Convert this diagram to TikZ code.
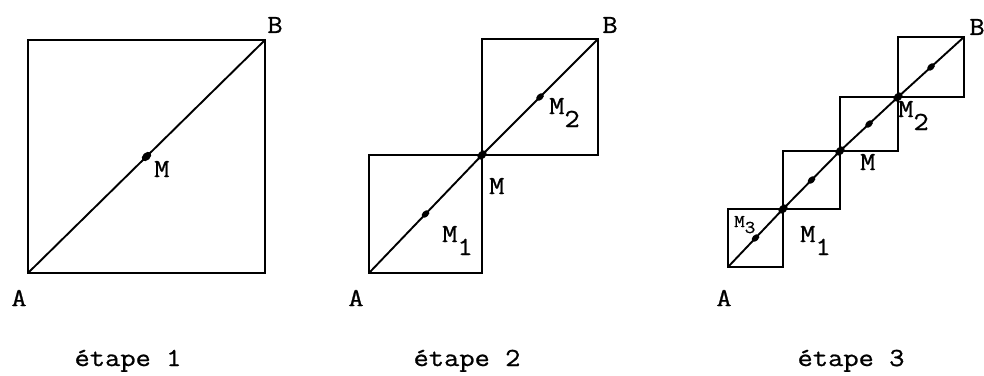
\documentclass[tikz,border=0pt]{standalone}
\usepackage{fontspec}
\newfontfamily\typefont[FakeStretch=1.14, FakeBold=0.9]{Latin Modern Mono}
\usetikzlibrary{shapes.geometric}
\newcommand\lowsub[1]{\raisebox{-13pt}{#1}}
\tikzset{
    squareline/.style={line width=2.4pt, line join=miter},
    diagline/.style={line width=1.9pt},
    bigdot/.style={ellipse, fill, inner sep=0pt, minimum width=11pt,
        minimum height=7.5pt, rotate=44},
    smalldot/.style={ellipse, fill, inner sep=0pt, minimum width=9pt,
        minimum height=6pt, rotate=44},
    ptlabel/.style={inner sep=0pt},
    steplabel/.style={inner sep=0pt, anchor=base}
}

\begin{document}
\begin{tikzpicture}[x=1pt, y=-1pt, font=\typefont\fontsize{26}{30}\selectfont]
    \useasboundingbox (0,0) rectangle (984,375);

    % etape 1
    \coordinate (a1) at (28,273);
    \coordinate (b1) at (265,40);
    \draw[squareline] (a1) rectangle (b1);
    \draw[diagline] (a1) -- (b1);
    \node[bigdot] (m) at (146.5,156.5) {};
    \node[ptlabel] (la1) at (19,298) {A};
    \node[ptlabel] (lb1) at (275,25) {B};
    \node[ptlabel, anchor=base west] (lm) at (154,177) {M};

    % etape 2
    \coordinate (a2) at (369,273);
    \coordinate (mm) at (482,155);
    \coordinate (b2) at (598,39);
    \draw[squareline] (a2) rectangle (mm);
    \draw[squareline] (mm) rectangle (b2);
    \draw[diagline] (a2) -- (mm) -- (b2);
    \node[bigdot] (m2) at (mm) {};
    \node[smalldot] (m21) at (425.5,214) {};
    \node[smalldot] (m22) at (540,97) {};
    \node[ptlabel] (la2) at (356,298) {A};
    \node[ptlabel] (lb2) at (610,25) {B};
    \node[ptlabel, anchor=base west] (lm2) at (489,194) {M};
    \node[ptlabel, anchor=base west] (lm21) at (442,242) {M\lowsub{1}};
    \node[ptlabel, anchor=base west] (lm22) at (549,114) {M\lowsub{2}};

    % etape 3
    \coordinate (a3) at (728,267);
    \coordinate (p1) at (783,209);
    \coordinate (p2) at (840,151);
    \coordinate (p3) at (898,97);
    \coordinate (b3) at (964,37);
    \draw[squareline] (a3) rectangle (p1);
    \draw[squareline] (p1) rectangle (p2);
    \draw[squareline] (p2) rectangle (p3);
    \draw[squareline] (p3) rectangle (b3);
    \draw[diagline] (a3) -- (p1) -- (p2) -- (p3) -- (b3);
    \node[bigdot] (d1) at (p1) {};
    \node[bigdot] (d2) at (p2) {};
    \node[bigdot] (d3) at (p3) {};
    \node[smalldot] (c1) at (755.5,238) {};
    \node[smalldot] (c2) at (811.5,180) {};
    \node[smalldot] (c3) at (869,124) {};
    \node[smalldot] (c4) at (931,67) {};
    \node[ptlabel] (la3) at (724,298) {A};
    \node[ptlabel] (lb3) at (977,27) {B};
    \node[ptlabel, anchor=base west] (lm3) at (860,170) {M};
    \node[ptlabel, anchor=base west] (lm31) at (800,242) {M\lowsub{1}};
    \node[ptlabel, anchor=base west] (lm32) at (898,117) {M\lowsub{2}};
    \node[ptlabel, anchor=base west, font=\typefont\fontsize{18}{21}\selectfont]
        (lm33) at (734,227) {M\raisebox{-6pt}{3}};

    \node[steplabel] (e1) at (128,366) {étape 1};
    \node[steplabel] (e2) at (467,366) {étape 2};
    \node[steplabel] (e3) at (851,366) {étape 3};
\end{tikzpicture}
\end{document}
